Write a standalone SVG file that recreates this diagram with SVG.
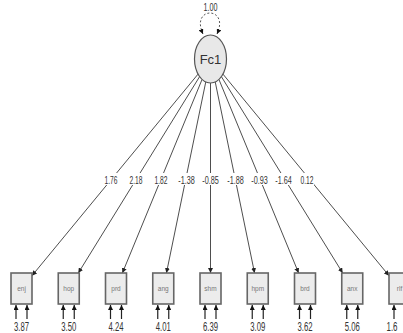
<svg xmlns="http://www.w3.org/2000/svg" width="403" height="333" viewBox="0 0 403 333">
  <defs>
    <marker id="ah" viewBox="0 0 10 10" refX="10" refY="5" markerWidth="5" markerHeight="5" orient="auto-start-reverse" markerUnits="userSpaceOnUse">
      <path d="M0,0 L10,5 L0,10 z" fill="#222"/>
    </marker>
    <marker id="ahs" viewBox="0 0 10 10" refX="10" refY="5" markerWidth="5" markerHeight="5" orient="auto-start-reverse" markerUnits="userSpaceOnUse">
      <path d="M0,0 L10,5 L0,10 z" fill="#111"/>
    </marker>
  </defs>
  <style>
    text { font-family: "Liberation Sans", Arial, sans-serif; fill: #333; }
    .edge { stroke: #3a3a3a; stroke-width: 0.9; fill: none; marker-end: url(#ah); }
    .res { stroke: #222; stroke-width: 1.2; fill: none; marker-end: url(#ahs); }
    .box { fill: #ececec; stroke: #666; stroke-width: 1.6; }
    .blab { font-size: 6.5px; fill: #777; text-anchor: middle; }
    .val { font-size: 12px; text-anchor: middle; fill: #333; }
    .lab { font-size: 10.5px; text-anchor: middle; fill: #333; }
    .lbg { fill: #fff; }
  </style>
  <rect width="403" height="333" fill="#fff"/>

  <!-- loadings from Fc1 to the indicators -->
  <g id="connectors">
    <path class="edge" d="M198.06,74.1 L32,275.7"/>
    <path class="edge" d="M199.63,76.6 L78.32,273"/>
    <path class="edge" d="M202.09,79.4 L122.38,273"/>
    <path class="edge" d="M205.78,81.9 L166.44,273"/>
    <path class="edge" d="M210.5,83 L210.5,273"/>
    <path class="edge" d="M215.22,81.9 L254.56,273"/>
    <path class="edge" d="M218.91,79.4 L298.62,273"/>
    <path class="edge" d="M221.37,76.6 L342.68,273"/>
    <path class="edge" d="M222.94,74.1 L389,275.7"/>
    <!-- factor variance loop -->
    <path d="M203,34 C190,6 230,6 217,34" fill="none" stroke="#555" stroke-width="1" stroke-dasharray="2,2" marker-start="url(#ahs)" marker-end="url(#ahs)"/>
  </g>

  <!-- loading labels -->
  <g id="edge-labels">
    <rect class="lbg" x="104" y="173" width="14" height="12"/><text class="lab" x="111" y="183.5" textLength="13" lengthAdjust="spacingAndGlyphs">1.76</text>
    <rect class="lbg" x="129" y="173" width="14" height="12"/><text class="lab" x="136" y="183.5" textLength="13" lengthAdjust="spacingAndGlyphs">2.18</text>
    <rect class="lbg" x="154" y="173" width="14" height="12"/><text class="lab" x="161" y="183.5" textLength="13" lengthAdjust="spacingAndGlyphs">1.82</text>
    <rect class="lbg" x="178" y="173" width="17" height="12"/><text class="lab" x="186.5" y="183.5" textLength="16.5" lengthAdjust="spacingAndGlyphs">-1.38</text>
    <rect class="lbg" x="202" y="173" width="17" height="12"/><text class="lab" x="210.5" y="183.5" textLength="16.5" lengthAdjust="spacingAndGlyphs">-0.85</text>
    <rect class="lbg" x="227" y="173" width="17" height="12"/><text class="lab" x="235.5" y="183.5" textLength="16.5" lengthAdjust="spacingAndGlyphs">-1.88</text>
    <rect class="lbg" x="251" y="173" width="17" height="12"/><text class="lab" x="259.5" y="183.5" textLength="16.5" lengthAdjust="spacingAndGlyphs">-0.93</text>
    <rect class="lbg" x="275" y="173" width="17" height="12"/><text class="lab" x="283.5" y="183.5" textLength="16.5" lengthAdjust="spacingAndGlyphs">-1.64</text>
    <rect class="lbg" x="300" y="173" width="14" height="12"/><text class="lab" x="307" y="183.5" textLength="13" lengthAdjust="spacingAndGlyphs">0.12</text>
    <text class="lab" x="210.5" y="11" textLength="14" lengthAdjust="spacingAndGlyphs">1.00</text>
  </g>

  <g id="Fc1">
    <ellipse cx="210.5" cy="59" rx="16" ry="24" fill="#e8e8e8" stroke="#555" stroke-width="1.2"/>
    <text x="210.5" y="63.5" font-size="13" text-anchor="middle" fill="#333">Fc1</text>
  </g>

  <g id="enj">
    <rect class="box" x="11" y="273" width="21" height="31"/>
    <text class="blab" x="21.5" y="291">enj</text>
    <path class="res" d="M16,319 L16,305"/><path class="res" d="M27,319 L27,305"/>
    <text class="val" x="21.5" y="331" textLength="15" lengthAdjust="spacingAndGlyphs">3.87</text>
  </g>
  <g id="hop">
    <rect class="box" x="58.25" y="273" width="21" height="31"/>
    <text class="blab" x="68.75" y="291">hop</text>
    <path class="res" d="M63.25,319 L63.25,305"/><path class="res" d="M74.25,319 L74.25,305"/>
    <text class="val" x="68.75" y="331" textLength="15" lengthAdjust="spacingAndGlyphs">3.50</text>
  </g>
  <g id="prd">
    <rect class="box" x="105.5" y="273" width="21" height="31"/>
    <text class="blab" x="116" y="291">prd</text>
    <path class="res" d="M110.5,319 L110.5,305"/><path class="res" d="M121.5,319 L121.5,305"/>
    <text class="val" x="116" y="331" textLength="15" lengthAdjust="spacingAndGlyphs">4.24</text>
  </g>
  <g id="ang">
    <rect class="box" x="152.75" y="273" width="21" height="31"/>
    <text class="blab" x="163.25" y="291">ang</text>
    <path class="res" d="M157.75,319 L157.75,305"/><path class="res" d="M168.75,319 L168.75,305"/>
    <text class="val" x="163.25" y="331" textLength="15" lengthAdjust="spacingAndGlyphs">4.01</text>
  </g>
  <g id="shm">
    <rect class="box" x="200" y="273" width="21" height="31"/>
    <text class="blab" x="210.5" y="291">shm</text>
    <path class="res" d="M205,319 L205,305"/><path class="res" d="M216,319 L216,305"/>
    <text class="val" x="210.5" y="331" textLength="15" lengthAdjust="spacingAndGlyphs">6.39</text>
  </g>
  <g id="hpm">
    <rect class="box" x="247.25" y="273" width="21" height="31"/>
    <text class="blab" x="257.75" y="291">hpm</text>
    <path class="res" d="M252.25,319 L252.25,305"/><path class="res" d="M263.25,319 L263.25,305"/>
    <text class="val" x="257.75" y="331" textLength="15" lengthAdjust="spacingAndGlyphs">3.09</text>
  </g>
  <g id="brd">
    <rect class="box" x="294.5" y="273" width="21" height="31"/>
    <text class="blab" x="305" y="291">brd</text>
    <path class="res" d="M299.5,319 L299.5,305"/><path class="res" d="M310.5,319 L310.5,305"/>
    <text class="val" x="305" y="331" textLength="15" lengthAdjust="spacingAndGlyphs">3.62</text>
  </g>
  <g id="anx">
    <rect class="box" x="341.75" y="273" width="21" height="31"/>
    <text class="blab" x="352.25" y="291">anx</text>
    <path class="res" d="M346.75,319 L346.75,305"/><path class="res" d="M357.75,319 L357.75,305"/>
    <text class="val" x="352.25" y="331" textLength="15" lengthAdjust="spacingAndGlyphs">5.06</text>
  </g>
  <g id="rlf">
    <rect class="box" x="389" y="273" width="21" height="31"/>
    <text class="blab" x="399.5" y="291">rlf</text>
    <path class="res" d="M394,319 L394,305"/><path class="res" d="M405,319 L405,305"/>
    <text class="val" x="392" y="331" text-anchor="start" textLength="11" lengthAdjust="spacingAndGlyphs">1.6</text>
  </g>
</svg>
